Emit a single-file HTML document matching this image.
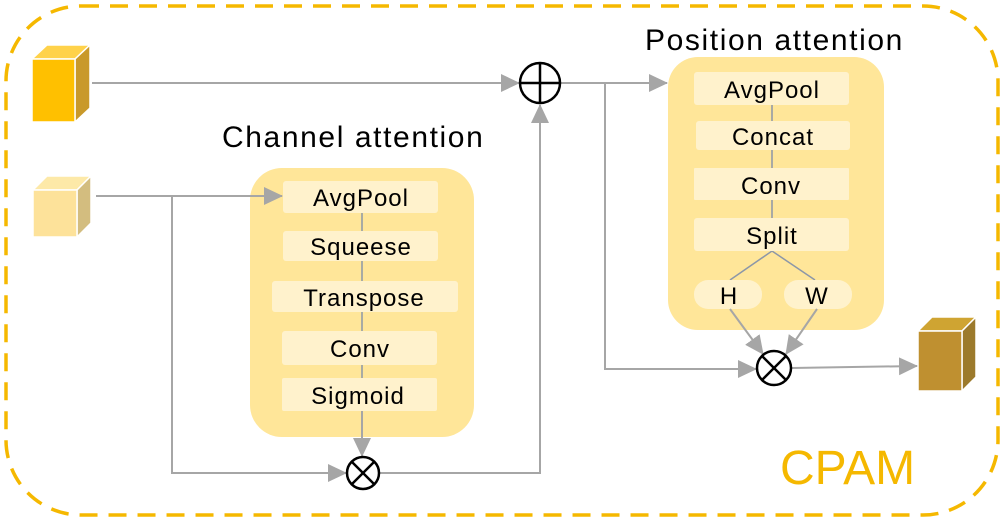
<!DOCTYPE html>
<html><head><meta charset="utf-8"><style>
html,body{margin:0;padding:0;background:#fff;}
svg{display:block;}
text{font-family:"Liberation Sans",sans-serif;}
</style></head><body>
<svg width="1005" height="521" viewBox="0 0 1005 521" xmlns="http://www.w3.org/2000/svg">
<defs>
<marker id="b" markerWidth="20" markerHeight="18" refX="18" refY="9" orient="auto" markerUnits="userSpaceOnUse">
<path d="M0,0 L19,9 L0,18 Z" fill="#a6a6a6"/></marker>
</defs>
<rect x="6" y="6" width="992" height="509" rx="75" fill="none" stroke="#f5b800" stroke-width="3.5" stroke-dasharray="18 11"/>

<!-- cubes -->
<g stroke="#fff" stroke-width="1.5">
<polygon points="32,59 47,45 90,45 75,59" fill="#ffd24a"/>
<polygon points="75,59 90,45 90,108 75,122" fill="#c9992a"/>
<rect x="32" y="59" width="43" height="63" fill="#ffc000"/>
<polygon points="33,190 47,176 91,176 77,190" fill="#fde9a8"/>
<polygon points="77,190 91,176 91,223 77,237" fill="#d3bd7f"/>
<rect x="33" y="190" width="44" height="47" fill="#fde29a"/>
<polygon points="918,331 932,317 976,317 962,331" fill="#cfa432"/>
<polygon points="962,331 976,317 976,377 962,391" fill="#9c7a2c"/>
<rect x="918" y="331" width="44" height="60" fill="#bf9030"/>
</g>

<!-- channel box -->
<rect x="250" y="168" width="224" height="269" rx="32" fill="#ffe699"/>
<line x1="362" y1="213" x2="362" y2="378" stroke="#8c97a8" stroke-width="1.5"/>
<g fill="#fff2cc">
<rect x="283" y="181" width="155" height="32" rx="3"/>
<rect x="283" y="231" width="155" height="30" rx="3"/>
<rect x="272" y="281" width="186" height="31" rx="3"/>
<rect x="282" y="331" width="155" height="34" rx="3"/>
<rect x="282" y="378" width="155" height="33" rx="2"/>
</g>
<g font-size="24" text-anchor="middle" fill="#000" letter-spacing="1">
<text x="361" y="206">AvgPool</text>
<text x="361" y="255">Squeese</text>
<text x="364" y="306">Transpose</text>
<text x="360" y="357">Conv</text>
<text x="358" y="404">Sigmoid</text>
</g>
<text x="222" y="147" font-size="30" fill="#000" letter-spacing="1.6">Channel attention</text>

<!-- position box -->
<rect x="668" y="57" width="216" height="273" rx="30" fill="#ffe699"/>
<line x1="772" y1="105" x2="772" y2="218" stroke="#8c97a8" stroke-width="1.5"/>
<polyline points="730,280 772,251 815,280" fill="none" stroke="#8c97a8" stroke-width="1.5"/>
<g fill="#fff2cc">
<rect x="694" y="72" width="155" height="33" rx="3"/>
<rect x="696" y="121" width="154" height="29" rx="3"/>
<rect x="694" y="168" width="155" height="32" rx="1"/>
<rect x="694" y="218" width="155" height="33" rx="3"/>
<rect x="694" y="280" width="68" height="29" rx="14"/>
<rect x="784" y="280" width="68" height="29" rx="14"/>
</g>
<g font-size="24" text-anchor="middle" fill="#000" letter-spacing="1">
<text x="772" y="98">AvgPool</text>
<text x="773" y="145">Concat</text>
<text x="771" y="194">Conv</text>
<text x="772" y="244">Split</text>
<text x="729" y="304">H</text>
<text x="817" y="304">W</text>
</g>
<text x="645" y="50" font-size="30" fill="#000" letter-spacing="1.6">Position attention</text>

<!-- connectors -->
<g fill="none" stroke="#a6a6a6" stroke-width="2">
<line x1="92" y1="83" x2="519" y2="83" marker-end="url(#b)"/>
<line x1="96" y1="196" x2="282" y2="196" marker-end="url(#b)"/>
<polyline points="172,196 172,473 346,473" marker-end="url(#b)"/>
<line x1="362" y1="411" x2="362" y2="456" marker-end="url(#b)"/>
<polyline points="379,473 540,473 540,105" marker-end="url(#b)"/>
<line x1="561" y1="83" x2="667" y2="83" marker-end="url(#b)"/>
<polyline points="605,83 605,369 756,369" marker-end="url(#b)"/>
<line x1="730" y1="309" x2="763" y2="354" marker-end="url(#b)"/>
<line x1="817" y1="309" x2="786" y2="354" marker-end="url(#b)"/>
<line x1="792" y1="368" x2="917" y2="366" marker-end="url(#b)"/>
</g>

<!-- operators -->
<g fill="#fff" stroke="#000" stroke-width="2.5">
<circle cx="540" cy="83" r="20"/>
<line x1="520" y1="83" x2="560" y2="83"/><line x1="540" y1="63" x2="540" y2="103"/>
<circle cx="363" cy="473" r="16"/>
<line x1="352" y1="462" x2="374" y2="484"/><line x1="374" y1="462" x2="352" y2="484"/>
<circle cx="774" cy="368" r="17"/>
<line x1="762" y1="356" x2="786" y2="380"/><line x1="786" y1="356" x2="762" y2="380"/>
</g>

<text x="780" y="484" font-size="48" fill="#f5b800">CPAM</text>
</svg>
</body></html>
